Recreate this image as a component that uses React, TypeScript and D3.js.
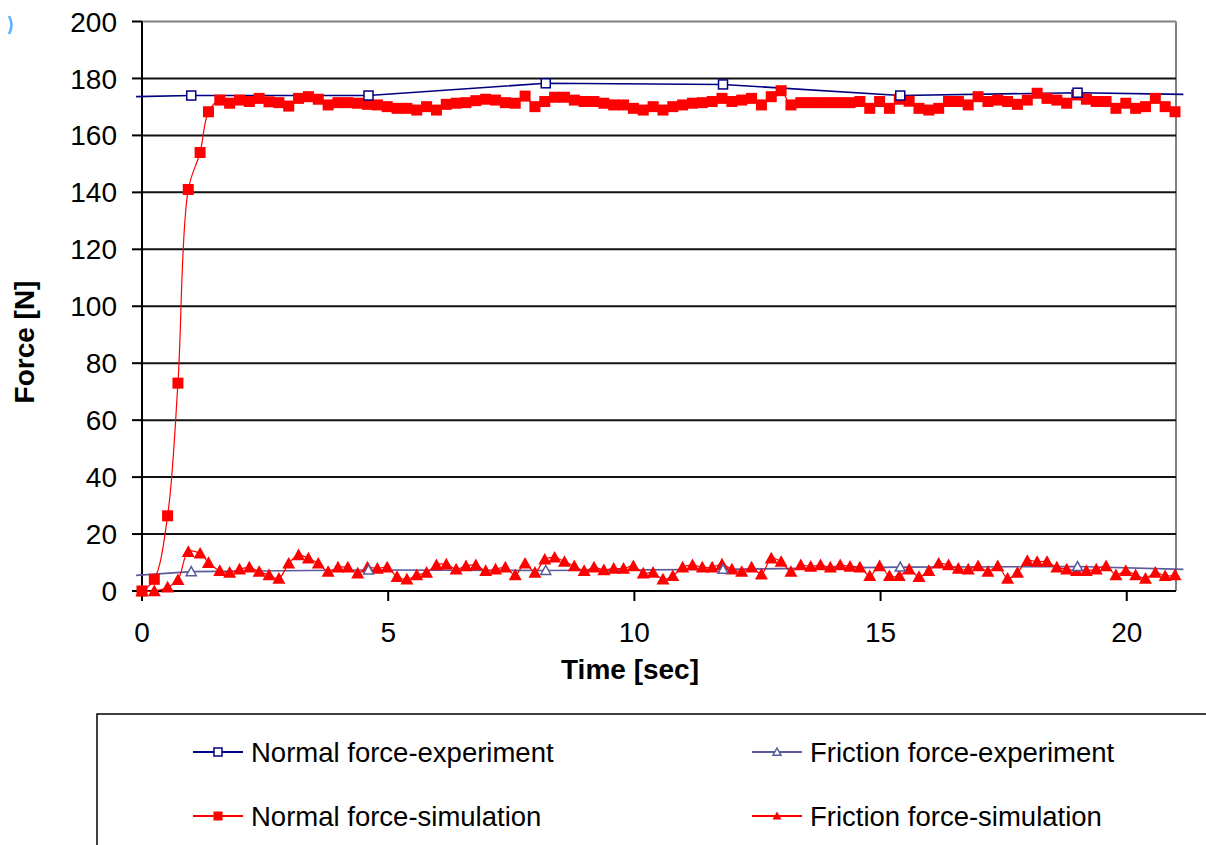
import React from "react";
import * as d3 from "d3";

// experiment samples (only the inner ones carry a marker)
const expTime = [-0.12, 1.0, 4.6, 8.2, 11.8, 15.4, 19.0, 21.15];
const normalExp = [173.6, 174.0, 174.0, 178.3, 177.9, 174.0, 175.0, 174.4];
const frictionExp = [5.5, 6.8, 7.4, 7.2, 7.6, 8.4, 8.6, 7.6];

// simulation output, first steps are uneven then every 0.2 s
const SIM_START = [0, 0.25, 0.52, 0.73, 0.94, 1.18, 1.35];
const SIM_STEP = 0.2;
const normalSim = [
  0, 4.1, 26.4, 73, 141, 154, 168.3, 172.4, 171.3, 172.4,
  171.9, 173.0, 171.8, 171.5, 170.3, 173.0, 173.6, 172.7, 170.7, 171.5,
  171.5, 171.3, 170.9, 170.7, 170.1, 169.5, 169.5, 168.9, 170.1, 168.9,
  170.9, 171.3, 171.5, 172.2, 172.7, 172.4, 171.5, 171.3, 173.8, 170.1,
  171.9, 173.4, 173.4, 172.4, 171.9, 171.9, 171.3, 170.7, 170.7, 169.5,
  168.9, 170.1, 168.9, 170.1, 170.7, 171.3, 171.5, 171.9, 173.0, 171.9,
  172.4, 173.0, 170.7, 173.6, 175.7, 170.7, 171.5, 171.5, 171.5, 171.5,
  171.5, 171.5, 171.9, 169.5, 171.9, 169.5, 172.7, 172.0, 169.5, 168.9,
  169.5, 171.9, 171.9, 170.7, 173.6, 171.9, 172.4, 171.9, 170.9, 172.4,
  174.8, 173.0, 172.4, 171.3, 174.2, 172.7, 171.9, 171.9, 169.5, 171.3,
  169.5, 170.1, 173.0, 170.1, 168.3,
];
const frictionSim = [
  0, 0, 1.3, 3.9, 13.8, 13.2, 9.9, 7.1, 6.5, 7.6,
  8.3, 6.8, 5.6, 4.4, 9.7, 12.6, 11.5, 9.7, 6.8, 8.3,
  8.3, 6.2, 8.3, 7.9, 8.3, 5.0, 4.1, 5.6, 6.5, 9.1,
  9.4, 7.6, 8.8, 9.1, 7.1, 7.6, 8.3, 5.6, 9.7, 6.5,
  11.1, 11.8, 10.3, 8.8, 7.1, 8.3, 7.4, 7.9, 7.9, 8.8,
  6.2, 6.5, 4.1, 5.3, 8.3, 9.1, 8.3, 8.3, 9.4, 7.6,
  6.8, 8.3, 5.9, 11.5, 10.3, 6.8, 9.1, 8.6, 9.1, 8.3,
  9.1, 8.6, 8.3, 5.3, 8.8, 5.3, 5.3, 7.6, 5.0, 7.1,
  9.7, 9.1, 7.9, 7.6, 8.8, 6.8, 8.8, 4.4, 6.5, 10.6,
  10.3, 10.3, 8.3, 7.6, 7.1, 7.1, 7.6, 8.8, 5.6, 7.1,
  5.6, 4.4, 6.5, 5.3, 5.6,
];
const simTime = normalSim.map((_, i) =>
  i < SIM_START.length ? SIM_START[i] : 1.58 + (i - SIM_START.length) * SIM_STEP
);

const xTicks = [0, 5, 10, 15, 20];
const yTicks = [0, 20, 40, 60, 80, 100, 120, 140, 160, 180, 200];

const legendItems = [
  { label: "Normal force-experiment", color: "#000080", shape: "square", filled: false },
  { label: "Friction force-experiment", color: "#5a5a9c", shape: "triangle", filled: false },
  { label: "Normal force-simulation", color: "#ff0000", shape: "square", filled: true },
  { label: "Friction force-simulation", color: "#ff0000", shape: "triangle", filled: true },
];

const FONT = "'Liberation Sans', Arial, sans-serif";
const NAVY = "#000080";
const LAVENDER = "#5a5a9c";
const RED = "#ff0000";

const tri = (s: number) => `M0,${-s}L${s},${s * 0.8}L${-s},${s * 0.8}Z`;

const Marker = ({ shape, x, y, color, filled, size }: any) =>
  shape === "square" ? (
    <rect
      x={x - size / 2}
      y={y - size / 2}
      width={size}
      height={size}
      fill={filled ? color : "#fff"}
      stroke={color}
      strokeWidth={filled ? 0 : 1.5}
    />
  ) : (
    <path
      d={tri(size / 2)}
      transform={`translate(${x},${y})`}
      fill={filled ? color : "#fff"}
      stroke={color}
      strokeWidth={filled ? 0 : 1.5}
    />
  );

export default function App() {
  const x = d3.scaleLinear().domain([0, 21]).range([142, 1176]);
  const y = d3.scaleLinear().domain([0, 200]).range([591, 21.5]);

  const straight = d3
    .line<number>()
    .x((_, i) => x(expTime[i]))
    .y((d) => y(d));
  const smooth = d3
    .line<number>()
    .x((_, i) => x(simTime[i]))
    .y((d) => y(d))
    .curve(d3.curveCatmullRom);

  const [x0, x1] = x.range();

  return (
    <svg
      width={1206}
      height={845}
      style={{ position: "absolute", left: 0, top: 0, background: "#fff" }}
      fontFamily={FONT}
    >
      <rect width={1206} height={845} fill="#fff" />
      <path d="M9,16 Q14,25 9,34" fill="none" stroke="#5ab0ff" strokeWidth={2.5} />

      {/* plot frame */}
      <line x1={x0} x2={x1} y1={y(200)} y2={y(200)} stroke="#808080" strokeWidth={2} />
      <line x1={x1} x2={x1} y1={y(200)} y2={y(0)} stroke="#808080" strokeWidth={2} />

      {/* horizontal grid + y ticks */}
      {yTicks.map((t) => (
        <g key={t}>
          {t > 0 && t < 200 && (
            <line x1={x0} x2={x1} y1={y(t)} y2={y(t)} stroke="#111" strokeWidth={2} />
          )}
          <line x1={x0 - 10} x2={x0} y1={y(t)} y2={y(t)} stroke="#000" strokeWidth={2} />
          <text x={117} y={y(t)} dy="0.36em" textAnchor="end" fontSize={28} fill="#000">
            {t}
          </text>
        </g>
      ))}

      {/* axes */}
      <line x1={x0} x2={x0} y1={y(200)} y2={y(0)} stroke="#000" strokeWidth={2} />
      <line x1={x0} x2={x1} y1={y(0)} y2={y(0)} stroke="#000" strokeWidth={2} />
      {xTicks.map((t) => (
        <g key={t}>
          <line x1={x(t)} x2={x(t)} y1={y(0)} y2={y(0) + 10} stroke="#000" strokeWidth={2} />
          <text x={x(t)} y={642} textAnchor="middle" fontSize={28} fill="#000">
            {t}
          </text>
        </g>
      ))}

      <text x={630} y={679} textAnchor="middle" fontSize={28} fontWeight="bold">
        Time [sec]
      </text>
      <text
        transform="translate(34,342) rotate(-90)"
        textAnchor="middle"
        fontSize={28}
        fontWeight="bold"
      >
        Force [N]
      </text>

      {/* series lines */}
      <path d={straight(normalExp) ?? ""} fill="none" stroke={NAVY} strokeWidth={1.6} />
      <path d={straight(frictionExp) ?? ""} fill="none" stroke={LAVENDER} strokeWidth={1.6} />
      <path d={smooth(normalSim) ?? ""} fill="none" stroke={RED} strokeWidth={1.2} />
      <path d={smooth(frictionSim) ?? ""} fill="none" stroke={RED} strokeWidth={1.2} />

      {/* markers */}
      {normalSim.map((v, i) => (
        <Marker key={"ns" + i} shape="square" x={x(simTime[i])} y={y(v)} color={RED} filled size={11} />
      ))}
      {frictionSim.map((v, i) => (
        <Marker key={"fs" + i} shape="triangle" x={x(simTime[i])} y={y(v)} color={RED} filled size={13} />
      ))}
      {normalExp.map((v, i) =>
        i > 0 && i < normalExp.length - 1 ? (
          <Marker key={"ne" + i} shape="square" x={x(expTime[i])} y={y(v)} color={NAVY} size={9} />
        ) : null
      )}
      {frictionExp.map((v, i) =>
        i > 0 && i < frictionExp.length - 1 ? (
          <Marker key={"fe" + i} shape="triangle" x={x(expTime[i])} y={y(v)} color={LAVENDER} size={10} />
        ) : null
      )}

      {/* legend */}
      <rect x={97} y={714} width={1200} height={200} fill="none" stroke="#000" strokeWidth={1.5} />
      {legendItems.map((d, i) => {
        const lx = i % 2 === 0 ? 193 : 752;
        const ly = i < 2 ? 752 : 816;
        return (
          <g key={d.label}>
            <line x1={lx} x2={lx + 50} y1={ly} y2={ly} stroke={d.color} strokeWidth={2} />
            <Marker
              shape={d.shape}
              x={lx + 25}
              y={ly}
              color={d.color}
              filled={d.filled}
              size={d.filled ? 9 : 8}
            />
            <text x={lx + 58} y={ly} dy="0.36em" fontSize={27.5} fill="#000">
              {d.label}
            </text>
          </g>
        );
      })}
    </svg>
  );
}
